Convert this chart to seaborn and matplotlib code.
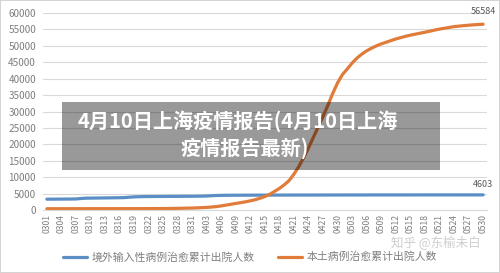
import matplotlib
matplotlib.use("Agg")
import matplotlib.pyplot as plt
from matplotlib.patches import Rectangle
from matplotlib.lines import Line2D
import pandas as pd
import seaborn as sns

dates = pd.date_range("2022-03-01", "2022-05-30").strftime("%m%d").tolist()

imported = [3300, 3300, 3310, 3320, 3330, 3340, 3360, 3500, 3600, 3620,
            3640, 3660, 3680, 3700, 3720, 3740, 3780, 3900, 4000, 4050,
            4080, 4100, 4110, 4120, 4130, 4140, 4150, 4160, 4170, 4180,
            4190, 4200, 4220, 4260, 4350, 4420, 4460, 4480, 4490, 4500,
            4505, 4510, 4515, 4520, 4525, 4530, 4535, 4540, 4545, 4550,
            4552, 4554, 4556, 4558, 4560, 4562, 4564, 4566, 4568, 4570,
            4572, 4574, 4576, 4578, 4580, 4582, 4584, 4586, 4587, 4588,
            4589, 4590, 4591, 4592, 4593, 4594, 4595, 4596, 4597, 4598,
            4599, 4600, 4600, 4601, 4601, 4601, 4602, 4602, 4602, 4603,
            4603]

local = [390, 390, 392, 392, 394, 395, 395, 396, 398, 400,
         401, 402, 403, 404, 405, 406, 408, 410, 412, 415,
         418, 422, 428, 435, 445, 460, 480, 505, 535, 570,
         600, 650, 720, 800, 900, 1050, 1250, 1500, 1750, 2000,
         2250, 2500, 2800, 3150, 3600, 4100, 4800, 5700, 6600, 7700,
         9000, 11000, 13300, 16000, 19000, 22200, 25400, 28600, 32000, 35600,
         38800, 41300, 43000, 44800, 46300, 47500, 48500, 49300, 50000, 50600,
         51100, 51600, 52100, 52500, 52900, 53250, 53550, 53850, 54150, 54450,
         54800, 55100, 55350, 55600, 55850, 56000, 56150, 56280, 56400, 56500,
         56584]

series_names = ["境外输入性病例治愈累计出院人数", "本土病例治愈累计出院人数"]
yticks = [0, 5000, 10000, 15000, 20000, 25000, 30000, 35000, 40000, 45000,
          50000, 55000, 60000]
title_lines = ["4月10日上海疫情报告(4月10日上海", "疫情报告最新)"]
watermark = "知乎 @东榆未白"

blue = "#5B8EC4"
orange = "#E07B39"
grey_text = "#7f7f7f"

sns.set_theme(style="white")
plt.rcParams["font.family"] = ["Noto Sans CJK SC", "DejaVu Sans"]

n = len(dates)
df = pd.DataFrame({
    "idx": list(range(n)) * 2,
    "value": imported + local,
    "series": [series_names[0]] * n + [series_names[1]] * n,
})

W, H = 500, 273
fig = plt.figure(figsize=(W / 100, H / 100), dpi=100)
fig.patch.set_facecolor("white")
fig.patch.set_edgecolor("#d4d4d4")
fig.patch.set_linewidth(1.2)

ax = fig.add_axes([43 / W, 1 - 210 / H, 444 / W, 197 / H])
sns.lineplot(data=df, x="idx", y="value", hue="series",
             palette=[blue, orange], linewidth=2.3, ax=ax, legend=False)

ax.set_xlim(-0.8, n - 0.2)
ax.set_ylim(0, 60000)
ax.set_yticks(yticks)
ax.set_yticklabels([str(v) for v in yticks])
ax.set_xticks(list(range(0, n, 3)))
ax.set_xticklabels(dates[::3], rotation=90)
ax.grid(axis="y", color="#d9d9d9", linewidth=0.8)
ax.grid(axis="x", visible=False)
for s in ["top", "right", "left"]:
    ax.spines[s].set_visible(False)
ax.spines["bottom"].set_color("#d9d9d9")
ax.spines["bottom"].set_linewidth(0.8)
ax.tick_params(axis="both", length=0, colors=grey_text)
ax.tick_params(axis="y", labelsize=7.2, pad=5)
ax.tick_params(axis="x", labelsize=6.2, pad=3)
ax.set_xlabel("")
ax.set_ylabel("")

ax.annotate(str(local[-1]), (n - 1, local[-1]), xytext=(0, 6),
            textcoords="offset points", ha="center", va="bottom",
            fontsize=6.5, color="#595959")
ax.annotate(str(imported[-1]), (n - 1, imported[-1]), xytext=(0, 4),
            textcoords="offset points", ha="center", va="bottom",
            fontsize=6.5, color="#595959")

handles = [Line2D([], [], color=blue, linewidth=2.3),
           Line2D([], [], color=orange, linewidth=2.3)]
fig.legend(handles, series_names, loc="center", bbox_to_anchor=(0.5, 1 - 257 / H),
           ncol=2, frameon=False, fontsize=7.8, handlelength=2.2,
           columnspacing=2.2, handletextpad=0.4, labelcolor=grey_text)

fig.patches.append(Rectangle((62 / W, 1 - 170 / H), (440 - 62) / W, 68 / H,
                             transform=fig.transFigure, facecolor="black",
                             alpha=0.4, edgecolor="none", zorder=5))
fig.text(238 / W, 1 - 121 / H, title_lines[0], ha="center", va="center",
         color="white", fontsize=14.5, fontweight="bold", zorder=6)
fig.text(245 / W, 1 - 148 / H, title_lines[1], ha="center", va="center",
         color="white", fontsize=14.5, fontweight="bold", zorder=6)

fig.text(436 / W, 1 - 243 / H, watermark, ha="center", va="center",
         color="#c9c9c9", fontsize=9, alpha=0.9, zorder=6)

fig.savefig("out.png", dpi=100, facecolor=fig.get_facecolor(),
            edgecolor=fig.get_edgecolor())
